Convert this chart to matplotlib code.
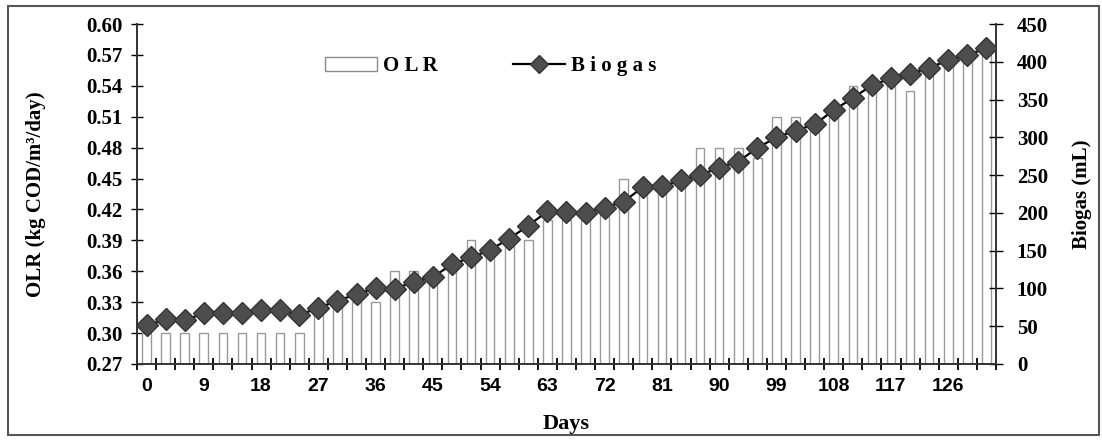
import numpy as np
import matplotlib.pyplot as plt
from matplotlib.patches import Rectangle
from matplotlib.lines import Line2D
from matplotlib.patches import Patch

days = list(range(0, 133, 3))
olr = [0.30, 0.30, 0.30, 0.30, 0.30, 0.30, 0.30, 0.30, 0.30, 0.32,
       0.33, 0.33, 0.33, 0.36, 0.36, 0.35, 0.36, 0.39, 0.375, 0.385,
       0.39, 0.41, 0.41, 0.41, 0.415, 0.45, 0.435, 0.44, 0.445, 0.48,
       0.48, 0.48, 0.47, 0.51, 0.51, 0.51, 0.51, 0.54, 0.535, 0.54,
       0.535, 0.55, 0.57, 0.565, 0.57]
biogas = [51, 59, 58, 67, 67, 67, 72, 71, 65, 74,
          84, 92, 101, 99, 109, 115, 132, 141, 151, 166,
          183, 202, 201, 200, 207, 215, 234, 235, 243, 250,
          260, 268, 286, 300, 309, 317, 336, 352, 369, 378,
          384, 392, 402, 409, 418]
olr_ticks = [0.27, 0.30, 0.33, 0.36, 0.39, 0.42, 0.45, 0.48, 0.51, 0.54, 0.57, 0.60]
biogas_ticks = list(range(0, 451, 50))

serif = "Liberation Serif"
sans = "Liberation Sans"

fig = plt.figure(figsize=(11.02, 4.42), dpi=100)
ax = fig.add_axes([0.1243, 0.1765, 0.7795, 0.7692])
ax2 = ax.twinx()

x = np.arange(len(days))
ax.bar(x, [v - 0.27 for v in olr], bottom=0.27, width=0.45,
       facecolor="white", edgecolor="#999999", linewidth=1.0, zorder=2)
ax.set_ylim(0.27, 0.60)
ax.set_xlim(-0.5, len(days) - 0.5)

ax2.plot(x, biogas, color="black", lw=1.6, marker="D", markersize=11.5,
         markerfacecolor="#4d4d4d", markeredgecolor="#333333", zorder=3)
ax2.set_ylim(0, 450)

# ticks
ax.set_yticks(olr_ticks)
ax.set_yticklabels([f"{t:.2f}" for t in olr_ticks], fontfamily=serif,
                   fontweight="bold", fontsize=15)
ax2.set_yticks(biogas_ticks)
ax2.set_yticklabels([str(t) for t in biogas_ticks], fontfamily=serif,
                    fontweight="bold", fontsize=15)
ax.set_xticks(np.arange(-0.5, len(days), 1.0))
ax.set_xticklabels([])
ax.set_xticks(x[::3], minor=True)
ax.set_xticklabels([str(d) for d in days[::3]], minor=True, fontfamily=sans,
                   fontweight="bold", fontsize=14)
ax.tick_params(axis="x", which="major", direction="inout", length=9, width=1.3)
ax.tick_params(axis="x", which="minor", length=0, pad=10)
ax.tick_params(axis="y", direction="inout", length=9, width=1.0, pad=6)
ax2.tick_params(axis="y", direction="inout", length=10, width=1.0, pad=10)

for a in (ax, ax2):
    a.spines["top"].set_visible(False)
    for s in ("left", "right", "bottom"):
        a.spines[s].set_color("#333333")
        a.spines[s].set_linewidth(1.2)

ax.set_ylabel("OLR (kg COD/m³/day)", fontfamily=serif, fontweight="bold",
              fontsize=15, labelpad=29)
ax2.set_ylabel("Biogas (mL)", fontfamily=serif, fontweight="bold",
               fontsize=15, labelpad=17)
ax.set_xlabel("Days", fontfamily=serif, fontweight="bold", fontsize=16,
              labelpad=14)

handles = [Patch(facecolor="white", edgecolor="#8a8a8a", linewidth=1.0),
           Line2D([0], [0], color="black", lw=1.6, marker="D", markersize=9,
                  markerfacecolor="#4d4d4d", markeredgecolor="#333333")]
leg = ax.legend(handles, ["O L R", "B i o g a s"], loc="upper left",
                bbox_to_anchor=(0.197, 0.96), ncol=2, frameon=False,
                columnspacing=3.6, handlelength=2.5, handletextpad=0.3,
                prop={"family": serif, "weight": "bold", "size": 15})

fig.patches.append(Rectangle((0.007, 0.016), 0.99, 0.97,
                             transform=fig.transFigure, fill=False,
                             edgecolor="#555555", linewidth=1.5))

fig.savefig("out.png", dpi=100)
